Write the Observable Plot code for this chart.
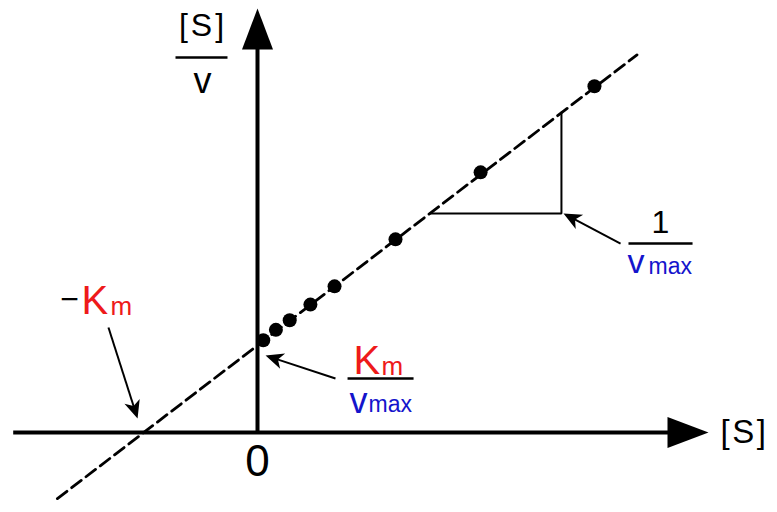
<!DOCTYPE html>
<html><head><meta charset="utf-8">
<script src="https://cdn.jsdelivr.net/npm/d3@7"></script>
<script src="https://cdn.jsdelivr.net/npm/@observablehq/plot@0.6"></script>
<style>body{margin:0;background:#fff}svg{display:block;background:#fff}</style>
</head><body><div id="chart"></div>
<script>
// ---- data (Hanes–Woolf plot, Km = 1 unit) ----
const S = [0.05, 0.16, 0.28, 0.46, 0.67, 1.20, 1.94, 2.93];
const SoverV = [1.06, 1.18, 1.29, 1.47, 1.68, 2.22, 2.99, 3.98];
const fitS = [-1.74, 3.30];
const fitSoverV = [-0.76, 4.34];
const slopeS = [1.50, 2.643, 2.643];
const slopeSoverV = [2.517, 2.517, 3.677];

// annotation arrows: from -> to
const arrowFromS = [-1.296, 0.678, 3.157];
const arrowFromV = [1.207, 0.621, 2.172];
const arrowToS = [-1.043, 0.070, 2.661];
const arrowToV = [0.161, 0.885, 2.517];

// label texts
const labelText = ["[S]", "v", "0", "[S]", "\u2212", "K", "m", "K", "m", "v", "max", "1", "v", "max"];
const labelColor = ["black", "black", "black", "black", "black", "red", "red", "red", "red", "blue", "blue", "black", "blue", "blue"];

// ---- layout ----
const W = 777, H = 512;
const xDomain = [-257 / 115, 520 / 115];
const yDomain = [-80 / 87, 432 / 87];
const sx = d3.scaleLinear(xDomain, [0, W]);
const sy = d3.scaleLinear(yDomain, [H, 0]);
const angle = (x1, y1, x2, y2) => Math.atan2(sy(y2) - sy(y1), sx(x2) - sx(x1)) * 180 / Math.PI;
const RED = "#ee1a1a", BLUE = "#1414cc";
const colorOf = c => c === "red" ? RED : c === "blue" ? BLUE : "#000";

const labelX = [-0.474, -0.478, 0, 4.026, -1.635, -1.530, -1.278, 0.835, 1.078, 0.800, 0.965, 3.504, 3.217, 3.400];
const labelY = [4.68, 4.040, -0.333, 0.0, 1.522, 1.508, 1.441, 0.825, 0.762, 0.362, 0.315, 2.415, 1.954, 1.901];
const labelSize = [32, 36, 44, 33, 32, 40, 26, 40, 26, 36, 23, 32, 34, 23];
const labelAnchor = ["middle", "middle", "middle", "start", "middle", "start", "start", "start", "start", "start", "start", "middle", "start", "start"];
const labelSpacing = [3, 0, 0, 2.5, 0, 0, 0, 0, 0, 0, 0, 0, 0, 0];

// fraction bars
const barS1 = [-0.713, 0.783, 3.226];
const barS2 = [-0.261, 1.357, 3.783];
const barV = [4.310, 0.621, 2.172];

const bigHead = {draw(ctx) { ctx.moveTo(0, 0); ctx.lineTo(-41, -15.5); ctx.lineTo(-41, 15.5); ctx.closePath(); }};
const smallHead = {draw(ctx) { ctx.moveTo(0, 0); ctx.lineTo(-18, -8); ctx.lineTo(-13, 0); ctx.lineTo(-18, 8); ctx.closePath(); }};

// shorten link ends so the line stops inside the head
const arrIdx = d3.range(arrowFromS.length);
const linkEnd = i => {
  const px1 = sx(arrowFromS[i]), py1 = sy(arrowFromV[i]);
  const px2 = sx(arrowToS[i]), py2 = sy(arrowToV[i]);
  const L = Math.hypot(px2 - px1, py2 - py1);
  const k = (L - 10) / L;
  return [sx.invert(px1 + (px2 - px1) * k), sy.invert(py1 + (py2 - py1) * k)];
};

const font = "'Liberation Sans', Arial, Helvetica, sans-serif";
const textMarks = labelText.map((t, i) => Plot.text([t], {
  x: () => labelX[i], y: () => labelY[i], text: d => d,
  fontSize: labelSize[i], fill: colorOf(labelColor[i]),
  textAnchor: labelAnchor[i], lineAnchor: "middle", fontFamily: font,
  className: "lbl" + i
}));

const chart = Plot.plot({
  width: W, height: H,
  marginTop: 0, marginRight: 0, marginBottom: 0, marginLeft: 0,
  x: {domain: xDomain, axis: null},
  y: {domain: yDomain, axis: null},
  style: {background: "#fff", overflow: "visible"},
  marks: [
    // axes
    Plot.ruleY([0], {x1: -2.12, x2: 3.62, stroke: "#000", strokeWidth: 4}),
    Plot.ruleX([0], {y1: -0.02, y2: 4.45, stroke: "#000", strokeWidth: 4}),
    Plot.dot([0], {x: () => 3.922, y: () => 0, symbol: bigHead, r: 10, fill: "#000", stroke: "none", rotate: 0}),
    Plot.dot([0], {x: () => 0, y: () => 4.874, symbol: bigHead, r: 10, fill: "#000", stroke: "none", rotate: -90}),
    // fitted line
    Plot.line(fitS.map((s, i) => [s, fitSoverV[i]]), {x: d => d[0], y: d => d[1], stroke: "#000", strokeWidth: 2.8, strokeDasharray: "12,6"}),
    // slope triangle
    Plot.line(slopeS.map((s, i) => [s, slopeSoverV[i]]), {x: d => d[0], y: d => d[1], stroke: "#000", strokeWidth: 2, strokeLinejoin: "miter"}),
    // data points
    Plot.dot(S.map((s, i) => [s, SoverV[i]]), {x: d => d[0], y: d => d[1], r: 7, fill: "#000", stroke: "none"}),
    // annotation arrows
    Plot.link(arrIdx, {x1: i => arrowFromS[i], y1: i => arrowFromV[i], x2: i => linkEnd(i)[0], y2: i => linkEnd(i)[1], stroke: "#000", strokeWidth: 2}),
    Plot.dot(arrIdx, {x: i => arrowToS[i], y: i => arrowToV[i], symbol: smallHead, r: 10, fill: "#000", stroke: "none",
      rotate: i => angle(arrowFromS[i], arrowFromV[i], arrowToS[i], arrowToV[i])}),
    // fraction bars
    Plot.link(d3.range(barV.length), {x1: i => barS1[i], x2: i => barS2[i], y1: i => barV[i], y2: i => barV[i], stroke: "#000", strokeWidth: 2.5}),
    ...textMarks
  ]
});
labelSpacing.forEach((ls, i) => {
  if (ls) chart.querySelectorAll(".lbl" + i + " text, text.lbl" + i).forEach(t => t.setAttribute("letter-spacing", ls + "px"));
});
document.getElementById("chart").appendChild(chart);
</script>
</body></html>
